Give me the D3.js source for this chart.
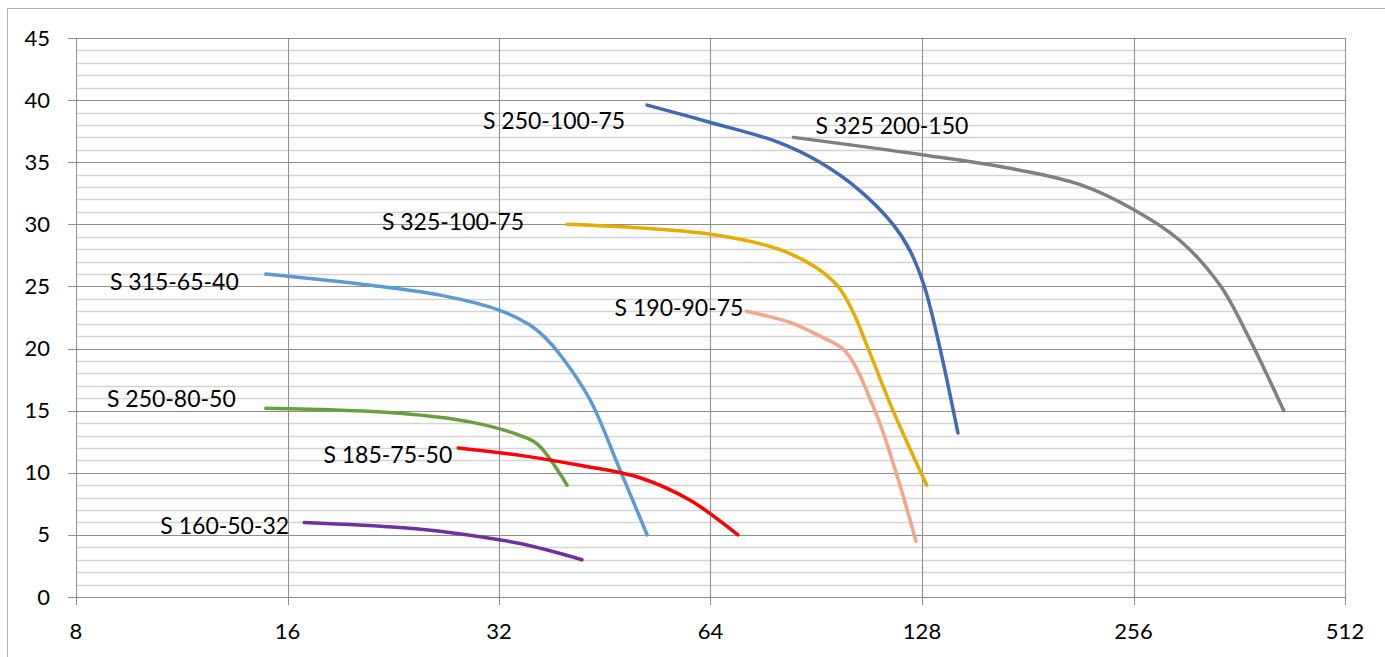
<!DOCTYPE html>
<html>
<head>
<meta charset="utf-8">
<script src="https://cdn.jsdelivr.net/npm/d3@7"></script>
<style>
  body { margin: 0; background: #fff; }
  text { font-family: Lato, "Open Sans", sans-serif; fill: #000; }
</style>
</head>
<body>
<svg class="chart"></svg>
<script>
// pump curves: flow (log2 x) vs head (y)
var names = ["S 250-100-75", "S 325 200-150", "S 325-100-75", "S 190-90-75",
             "S 315-65-40", "S 250-80-50", "S 185-75-50", "S 160-50-32"];
var colors = ["#4169b4", "#808080", "#e6ac00", "#f4a58a",
              "#5b9bd5", "#6a9f3e", "#ff0000", "#7030a0"];

var flows = [
  [52, 64, 80, 91.6, 104, 116.4, 123, 129, 135.8, 144],
  [84, 128, 175, 215, 256, 298, 340, 375, 419],
  [40, 64, 80, 90, 97.2, 102, 107.3, 116.4, 130],
  [72, 83, 91.6, 99.5, 109.7, 117.6, 125.5],
  [14.9, 21, 26.4, 32, 35.4, 37.2, 39.1, 43.1, 47.6, 52],
  [14.9, 23.1, 29.1, 34.3, 36.3, 40],
  [28, 34.3, 41.7, 50.8, 59.8, 70],
  [16.9, 23.1, 27.2, 34.3, 42]
];
var heads = [
  [39.6, 38.2, 36.6, 35.0, 32.8, 30.0, 27.9, 25.0, 20.0, 13.2],
  [37.0, 35.6, 34.4, 33.2, 31.2, 28.7, 25.1, 20.7, 15.0],
  [30.0, 29.2, 28.0, 26.6, 25.0, 23.0, 20.0, 15.0, 9.0],
  [23.0, 22.1, 21.0, 19.8, 15.0, 10.0, 4.5],
  [26.0, 25.1, 24.3, 23.1, 21.9, 20.9, 19.5, 15.9, 10.2, 5.0],
  [15.2, 14.8, 14.1, 13.0, 12.3, 9.0],
  [12.0, 11.4, 10.6, 9.6, 7.8, 5.0],
  [6.0, 5.6, 5.2, 4.3, 3.0]
];

var xTicks = [8, 16, 32, 64, 128, 256, 512];
var yTicks = [0, 5, 10, 15, 20, 25, 30, 35, 40, 45];

var W = 1385, H = 657;
var margin = {left: 76, top: 38, right: 40, bottom: 60};

var svg = d3.select(".chart")
    .attr("width", W)
    .attr("height", H);

// chart area border
svg.append("rect")
    .attr("x", 7.5)
    .attr("y", 8.5)
    .attr("width", W)
    .attr("height", H)
    .attr("fill", "none")
    .attr("stroke", "#b0b0b0")
    .attr("stroke-width", 1);

var x = d3.scaleLog().base(2)
    .domain([8, 512])
    .range([margin.left, W - margin.right]);

var y = d3.scaleLinear()
    .domain([0, 45])
    .range([H - margin.bottom, margin.top]);

// minor horizontal gridlines, every 1
svg.append("g")
    .selectAll("line")
    .data(d3.range(0, 46).filter(function(d) { return d % 5 !== 0; }))
    .join("line")
    .attr("x1", x(8)).attr("x2", x(512))
    .attr("y1", function(d) { return Math.round(y(d)) + 0.5; })
    .attr("y2", function(d) { return Math.round(y(d)) + 0.5; })
    .attr("stroke", "#d4d4d4")
    .attr("stroke-width", 1.3);

// major gridlines
svg.append("g")
    .selectAll("line")
    .data(yTicks)
    .join("line")
    .attr("x1", x(8) - 8).attr("x2", x(512))
    .attr("y1", function(d) { return Math.round(y(d)) + 0.5; })
    .attr("y2", function(d) { return Math.round(y(d)) + 0.5; })
    .attr("stroke", "#8e8e8e")
    .attr("stroke-width", 1);

svg.append("g")
    .selectAll("line")
    .data(xTicks)
    .join("line")
    .attr("x1", function(d) { return Math.round(x(d)) + 0.5; })
    .attr("x2", function(d) { return Math.round(x(d)) + 0.5; })
    .attr("y1", y(45))
    .attr("y2", y(0) + 8)
    .attr("stroke", "#8e8e8e")
    .attr("stroke-width", 1);

// tick labels
svg.append("g")
    .selectAll("text")
    .data(yTicks)
    .join("text")
    .attr("x", 50)
    .attr("y", function(d) { return y(d) + 7.5; })
    .attr("text-anchor", "end")
    .attr("font-size", "22px")
    .text(function(d) { return d; });

svg.append("g")
    .selectAll("text")
    .data(xTicks)
    .join("text")
    .attr("x", function(d) { return x(d); })
    .attr("y", 639)
    .attr("text-anchor", "middle")
    .attr("font-size", "22px")
    .text(function(d) { return d; });

var line = d3.line()
    .x(function(d) { return x(d[0]); })
    .y(function(d) { return y(d[1]); })
    .curve(d3.curveCatmullRom.alpha(0.5));

names.forEach(function(name, i) {
  var pts = d3.zip(flows[i], heads[i]);
  svg.append("path")
      .attr("d", line(pts))
      .attr("fill", "none")
      .attr("stroke", colors[i])
      .attr("stroke-width", 3.5)
      .attr("stroke-linecap", "round");
});

// data labels next to the first point of each curve
var labelShift = {
  "S 250-100-75": [-22, 24, "end"],
  "S 325 200-150": [22, -3, "start"],
  "S 325-100-75": [-43, 6, "end"],
  "S 315-65-40": [-27, 16, "end"],
  "S 190-90-75": [-3, 5, "end"],
  "S 250-80-50": [-30, -1, "end"],
  "S 185-75-50": [-6, 15, "end"],
  "S 160-50-32": [-15, 12, "end"]
};

names.forEach(function(name, i) {
  var s = labelShift[name];
  svg.append("text")
      .attr("x", x(flows[i][0]) + s[0])
      .attr("y", y(heads[i][0]) + s[1])
      .attr("text-anchor", s[2])
      .attr("font-size", "23px")
      .text(name);
});
</script>
</body>
</html>
